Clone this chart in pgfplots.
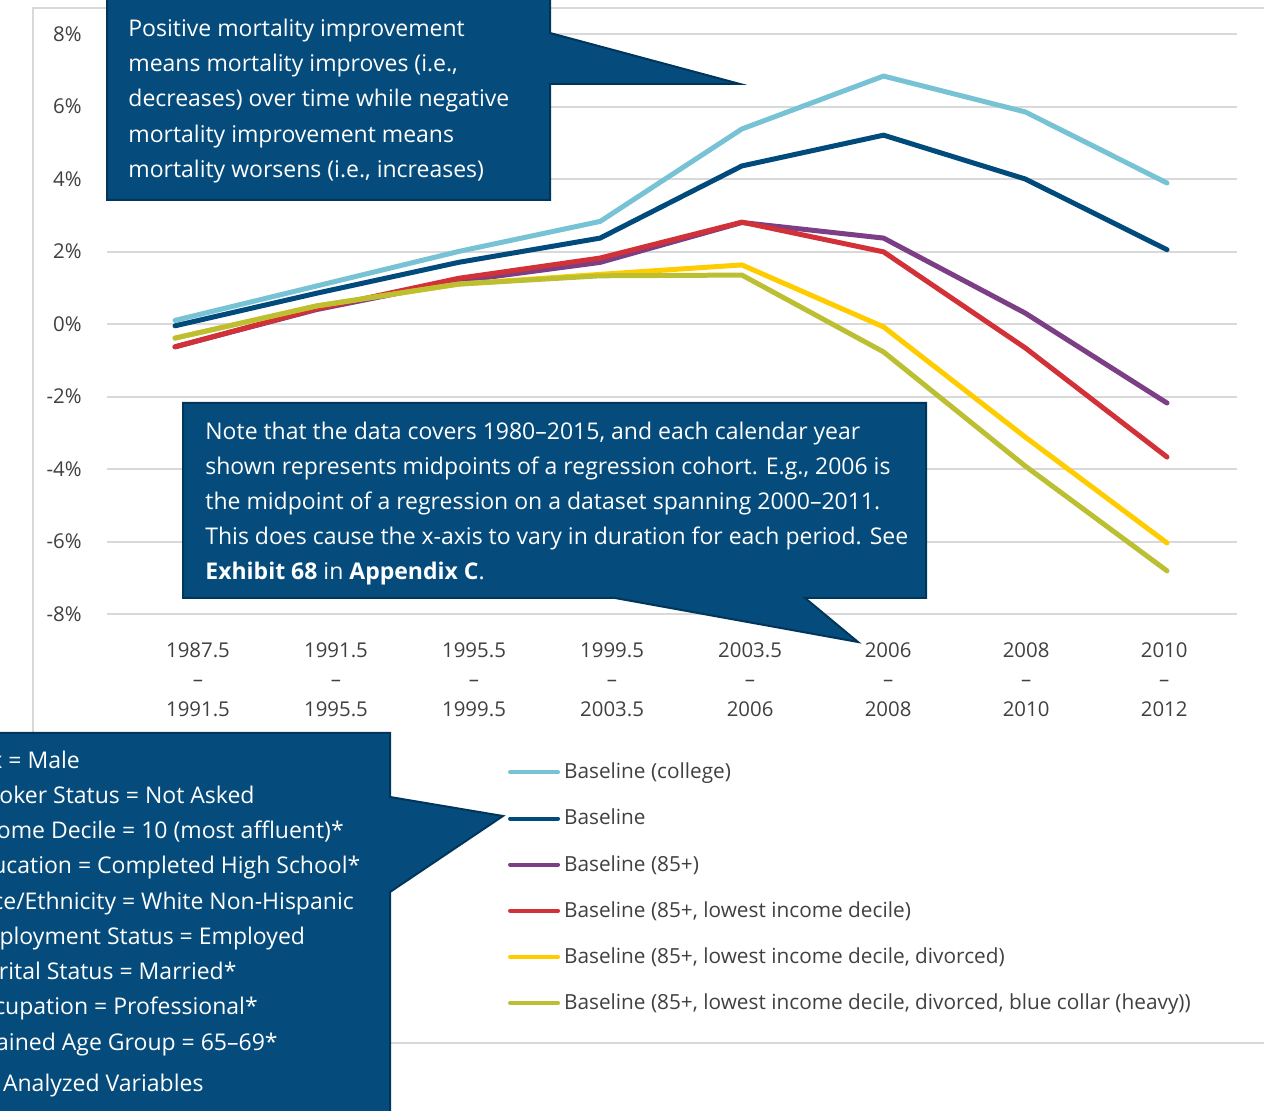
\documentclass[border=0pt]{standalone}
\usepackage{pgfplots}
\pgfplotsset{compat=1.18}
\usepackage{fontspec}
\setmainfont{Open Sans}

\definecolor{cCollege}{RGB}{119,195,213}
\definecolor{cBase}{RGB}{0,75,124}
\definecolor{cOld}{RGB}{124,63,133}
\definecolor{cLow}{RGB}{210,49,56}
\definecolor{cDiv}{RGB}{255,204,0}
\definecolor{cBlue}{RGB}{188,191,49}
\definecolor{gridgray}{RGB}{217,217,217}
\definecolor{boxfill}{RGB}{5,76,124}
\definecolor{boxline}{RGB}{0,54,92}
\definecolor{txt}{RGB}{64,64,64}

\pgfplotstableread{
x college base old low div blue
0 0.10 -0.05 -0.63 -0.63 -0.39 -0.39
1 1.05 0.85 0.40 0.42 0.50 0.50
2 2.00 1.70 1.18 1.26 1.10 1.10
3 2.83 2.37 1.70 1.82 1.37 1.33
4 5.38 4.36 2.80 2.81 1.63 1.35
5 6.84 5.21 2.37 1.99 -0.08 -0.77
6 5.85 4.00 0.30 -0.66 -3.12 -3.92
7 3.89 2.05 -2.18 -3.67 -6.04 -6.81
}\datatable

\begin{document}
\begin{tikzpicture}
\useasboundingbox (0,0) rectangle (632pt,-555.5pt);
\clip (0,0) rectangle (632pt,-555.5pt);
\begin{scope}[x=0.5pt,y=-0.5pt]
\draw[gridgray, line width=0.75pt] (33,1043) -- (33,8) -- (1300,8);
\draw[gridgray, line width=0.75pt] (33,1043) -- (1300,1043);
\end{scope}
\begin{axis}[
  at={(53.5pt,-307pt)}, anchor=south west,
  scale only axis, width=565pt, height=290pt,
  xmin=-0.48, xmax=7.494, ymin=-8, ymax=8,
  axis line style={draw=none}, tick style={draw=none}, major tick length=0pt,
  ytick={-8,-6,-4,-2,0,2,4,6,8},
  yticklabels={-8\%,-6\%,-4\%,-2\%,0\%,2\%,4\%,6\%,8\%},
  ymajorgrids, grid style={gridgray, line width=1pt},
  xtick={0.162,1.136,2.11,3.084,4.058,5.032,6.006,6.98},
  xticklabels={{1987.5\\–\\1991.5},{1991.5\\–\\1995.5},{1995.5\\–\\1999.5},{1999.5\\–\\2003.5},{2003.5\\–\\2006},{2006\\–\\2008},{2008\\–\\2010},{2010\\–\\2012}},
  xticklabel style={align=center, font=\fontsize{10.2}{14.75}\selectfont, text=txt, inner sep=0pt, yshift=-14pt},
  yticklabel style={anchor=east, font=\fontsize{10.2}{12}\selectfont, text=txt, inner sep=0pt, xshift=-12.5pt},
  every axis plot/.append style={line width=2.5pt, line join=round, line cap=round, mark=none},
  legend cell align=left,
  legend image code/.code={\draw[line width=2pt, line cap=round] (1pt,0pt) -- (25pt,0pt);},
  legend style={at={(axis description cs:0.3549,-0.25)}, anchor=north west, draw=none, fill=none,
    inner sep=0pt, outer sep=0pt, row sep=9.65pt, font=\fontsize{10.4}{12}\selectfont, text=txt,
    /tikz/every even column/.append style={column sep=3pt}},
]
\addplot[cCollege] table[x=x,y=college]{\datatable};
\addlegendentry{Baseline (college)}
\addplot[cBase] table[x=x,y=base]{\datatable};
\addlegendentry{Baseline}
\addplot[cOld] table[x=x,y=old]{\datatable};
\addlegendentry{Baseline (85+)}
\addplot[cLow] table[x=x,y=low]{\datatable};
\addlegendentry{Baseline (85+, lowest income decile)}
\addplot[cDiv] table[x=x,y=div]{\datatable};
\addlegendentry{Baseline (85+, lowest income decile, divorced)}
\addplot[cBlue] table[x=x,y=blue]{\datatable};
\addlegendentry{Baseline (85+, lowest income decile, divorced, blue collar (heavy))}
\end{axis}
\begin{scope}[x=0.5pt,y=-0.5pt]
\filldraw[fill=boxfill, draw=boxline, line width=1pt, line join=miter]
  (107,-10) -- (550,-10) -- (550,33) -- (740,84) -- (550,84) -- (550,200) -- (107,200) -- cycle;
\filldraw[fill=boxfill, draw=boxline, line width=1pt, line join=miter]
  (183,403) -- (926,403) -- (926,598) -- (805,598) -- (858,642) -- (615,598) -- (183,598) -- cycle;
\filldraw[fill=boxfill, draw=boxline, line width=1pt, line join=miter]
  (-10,733) -- (390,733) -- (390,797) -- (503,816) -- (390,892) -- (390,1120) -- (-10,1120) -- cycle;
\begin{scope}[every node/.style={anchor=base west, inner sep=0pt, text=white, font=\fontsize{11.5}{13}\selectfont}]
\node at (128,37) {Positive mortality improvement};
\node at (128,72) {means mortality improves (i.e.,};
\node at (128,107) {decreases) over time while negative};
\node at (128,143) {mortality improvement means};
\node at (128,178) {mortality worsens (i.e., increases)};
\node at (205,440) {Note that the data covers 1980–2015, and each calendar year};
\node at (205,475) {shown represents midpoints of a regression cohort. E.g., 2006 is};
\node at (205,510) {the midpoint of a regression on a dataset spanning 2000–2011.};
\node at (205,545) {This does cause the x-axis to vary in duration for each period. See};
\node at (205,580) {{\bfseries Exhibit 68} in {\bfseries Appendix C}.};
\node at (-35,769) {Sex = Male};
\node at (-35,804) {Smoker Status = Not Asked};
\node at (-35,839) {Income Decile = 10 (most affluent)*};
\node at (-35,874) {Education = Completed High School*};
\node at (-35,909) {Race/Ethnicity = White Non-Hispanic};
\node at (-35,944) {Employment Status = Employed};
\node at (-35,979) {Marital Status = Married*};
\node at (-35,1014) {Occupation = Professional*};
\node at (-35,1050) {Attained Age Group = 65–69*};
\node at (-16,1091) {* Analyzed Variables};
\end{scope}
\end{scope}
\end{tikzpicture}
\end{document}
